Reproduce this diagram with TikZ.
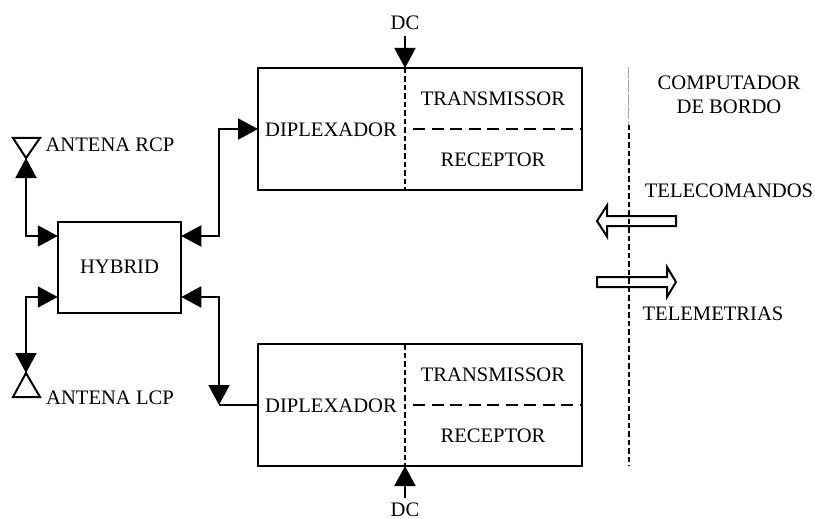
\documentclass[tikz,border=0pt]{standalone}
\usepackage{fontspec}
\setmainfont{Liberation Serif}
\usetikzlibrary{arrows.meta}
\tikzset{
  blockbox/.style={draw,line width=2pt,inner sep=0pt,outer sep=0pt},
  lbl/.style={inner sep=0pt,outer sep=0pt,align=center,font=\fontsize{20.6}{24}\selectfont},
  conn/.style={line width=2pt,line join=miter},
  inner dash/.style={line width=2pt,dash pattern=on 5.5pt off 3pt},
  split dash/.style={line width=2pt,dash pattern=on 12pt off 6.5pt},
  hollow/.style={draw,line width=2pt,fill=white,line join=miter},
}
\begin{document}
\begin{tikzpicture}[x=1pt,y=-1pt]
\useasboundingbox (0,0) rectangle (815,519);
% blocks
\node[blockbox,minimum width=123.5pt,minimum height=91pt] (hyb) at (119.5,267.5) {};
\node[lbl] at (119.5,267) {HYBRID};
\node[blockbox,minimum width=324pt,minimum height=122pt] (top) at (420,129) {};
\node[blockbox,minimum width=324pt,minimum height=122pt] (bot) at (420,405) {};
% labels
\node[lbl] (td) at (331,129.5) {DIPLEXADOR};
\node[lbl] (tt) at (493,98.5) {TRANSMISSOR};
\node[lbl] (tr) at (493,159.5) {RECEPTOR};
\node[lbl] (bd) at (331,405.5) {DIPLEXADOR};
\node[lbl] (bt) at (493,374.5) {TRANSMISSOR};
\node[lbl] (br) at (493,435.5) {RECEPTOR};
\node[lbl] (dc1) at (405,22.5) {DC};
\node[lbl] (dc2) at (405,510) {DC};
\node[lbl] (arcp) at (110,144.5) {ANTENA RCP};
\node[lbl] (alcp) at (110,397.5) {ANTENA LCP};
\node[lbl] (comp) at (729,95) {COMPUTADOR\\[-0.5pt]DE BORDO};
\node[lbl] (tele) at (729,190.5) {TELECOMANDOS};
\node[lbl] (telm) at (713,313.5) {TELEMETRIAS};
% named points
\coordinate (ar) at (26,158);
\coordinate (al) at (26,373);
\coordinate (hwa) at (hyb.west |- 0,236);
\coordinate (hwb) at (hyb.west |- 0,297);
\coordinate (hea) at (hyb.east |- 0,236);
\coordinate (heb) at (hyb.east |- 0,297);
\coordinate (tw) at (top.west);
\coordinate (bw) at (bot.west);
\coordinate (jt) at (219,129);
\coordinate (jb) at (219,405);
\coordinate (dt) at (405,36);
\coordinate (db) at (405,498);
% antennas
\draw[conn] (ar) -- (13,138) -- (40,138) -- cycle;
\draw[conn] (al) -- (13,397) -- (40,397) -- cycle;
% connectors
\draw[conn,{Triangle[length=20pt,width=21pt]}-{Triangle[length=20pt,width=21pt]}] (ar) |- (hwa);
\draw[conn,{Triangle[length=20pt,width=21pt]}-{Triangle[length=20pt,width=21pt]}] (al) |- (hwb);
\draw[conn,{Triangle[length=20pt,width=21pt]}-{Triangle[length=20pt,width=21pt]}] (hea) -| (jt) -- (tw);
\draw[conn,{Triangle[length=20pt,width=21pt]}-{Triangle[length=20pt,width=21pt]}] (heb) -| (jb);
\draw[conn] (jb) -- (bw);
\draw[conn,-{Triangle[length=20pt,width=21pt]}] (dt) -- (top.north -| dt);
\draw[conn,-{Triangle[length=20pt,width=21pt]}] (db) -- (bot.south -| db);
% block arrows
\coordinate (cmdtail) at (676,221);
\coordinate (cmdtip) at (597,221);
\coordinate (tlmtail) at (597,282);
\coordinate (tlmtip) at (676,282);
\draw[hollow] (cmdtail) ++(0,-5) -- (607,216) -- (607,205.5) -- (cmdtip) -- (607,236.5) -- (607,226) -- (676,226) -- cycle;
\draw[hollow] (tlmtail) ++(0,-5) -- (667,277) -- (667,267) -- (tlmtip) -- (667,297) -- (667,287) -- (597,287) -- cycle;
% dashed dividers
\draw[inner dash] (dt |- top.north) -- (dt |- top.south);
\draw[inner dash] (db |- bot.north) -- (db |- bot.south);
\draw[split dash] (413,129) -- (top.east);
\draw[split dash] (413,405) -- (bot.east);
\coordinate (bus0) at (628.5,67);
\coordinate (bus1) at (628.5,125);
\coordinate (bus2) at (628.5,466);
\draw[gray!70,line width=0.6pt,dash pattern=on 12pt off 1.5pt] (bus0) -- (bus1);
\draw[inner dash] (bus1) -- (bus2);
\end{tikzpicture}
\end{document}
